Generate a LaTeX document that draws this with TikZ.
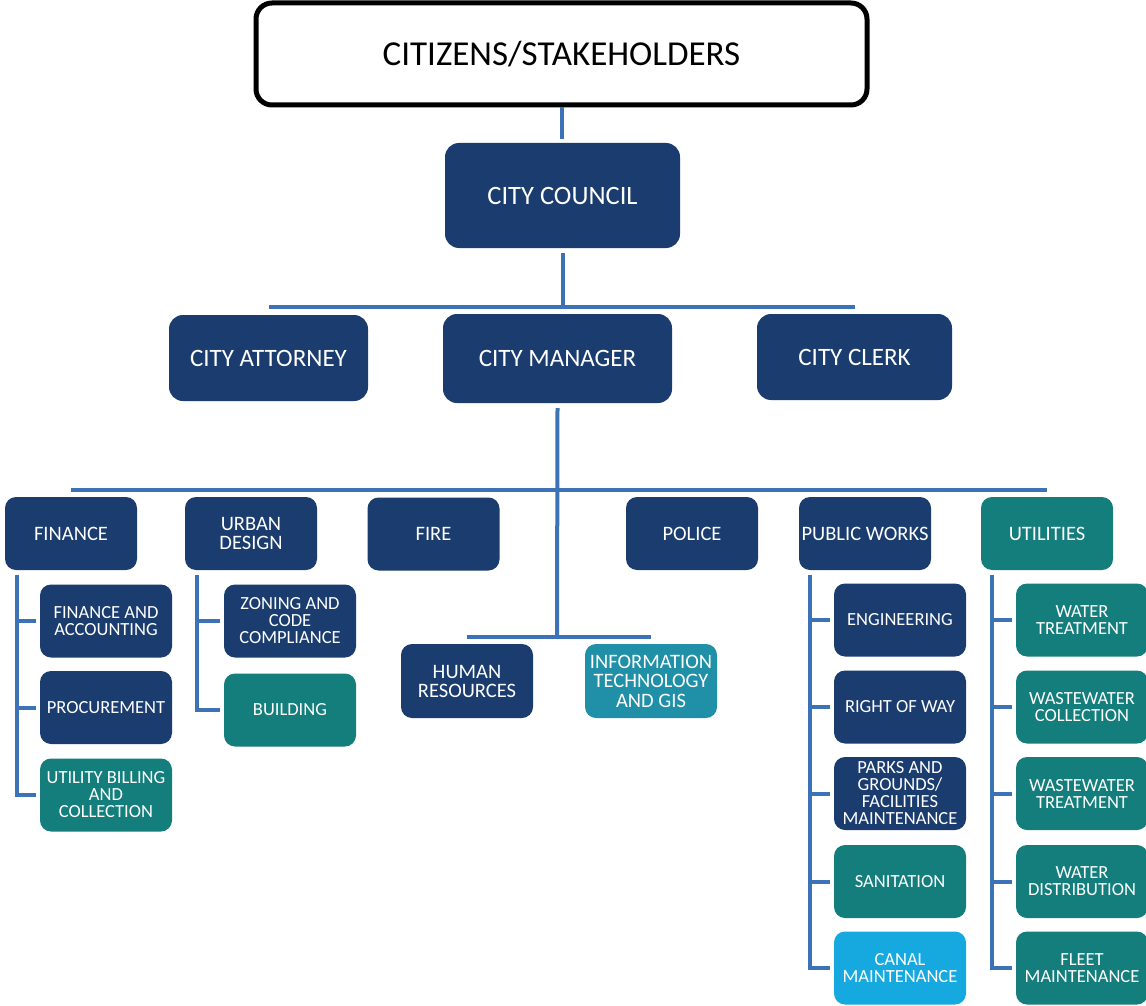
\documentclass[tikz,border=0pt]{standalone}
\usepackage{fontspec}
\setmainfont{Carlito}
\usepackage{tikz}
\definecolor{cnavy}{HTML}{1A3C6F}
\definecolor{cteal}{HTML}{137E7C}
\definecolor{cinfo}{HTML}{1F90A8}
\definecolor{ccanal}{HTML}{16A9E0}
\definecolor{clink}{HTML}{3C72B6}

\begin{document}
\begin{tikzpicture}[x=1pt,y=-1pt,
  link/.style={draw=clink,line width=4pt},
  box/.style={rectangle,rounded corners=11pt,text=white,align=center,inner sep=0pt,
    minimum width=132pt,minimum height=73pt,font=\fontsize{18.5}{17}\selectfont},
  navybox/.style={box,fill=cnavy},
  tealbox/.style={box,fill=cteal},
  deptbox/.style={font=\fontsize{20.5}{19}\selectfont},
  headbox/.style={navybox,rounded corners=14pt,font=\fontsize{25}{26}\selectfont}]
\useasboundingbox (0,0) rectangle (1146,1006);
\node[rectangle,rounded corners=16pt,draw=black,line width=5pt,fill=white,minimum width=611pt,minimum height=102pt,font=\fontsize{35}{36}\selectfont] (cit) at (561.5,54) {CITIZENS/STAKEHOLDERS};
\node[headbox,minimum width=235pt,minimum height=105pt,font=\fontsize{26.5}{28}\selectfont] (coun) at (562.5,195.5) {CITY COUNCIL};
\node[headbox,minimum width=199pt,minimum height=86pt] (att) at (268.5,358) {CITY ATTORNEY};
\node[headbox,minimum width=229pt,minimum height=89pt] (mgr) at (557.5,358.5) {CITY MANAGER};
\node[headbox,minimum width=195pt,minimum height=86pt] (clk) at (854.5,357) {CITY CLERK};
\coordinate (cbar) at (562,307);
\coordinate (dbar) at (557,490);
\coordinate (hbar) at (557,637);
\draw[link,shorten >=4pt] (cit.south) -- (cit.south |- coun.north);
\draw[link] ([yshift=-5pt]coun.south) -- (coun.south |- cbar);
\draw[link] (att.north |- cbar) -- (clk.north |- cbar);
\node[navybox,deptbox] (fin) at (71,533.5) {FINANCE};
\node[navybox,deptbox] (urb) at (251,533.5) {URBAN\\DESIGN};
\node[navybox,deptbox] (fire) at (433.5,534) {FIRE};
\node[navybox,deptbox] (pol) at (692,533.5) {POLICE};
\node[navybox,deptbox] (pw) at (865,533.5) {PUBLIC WORKS};
\node[tealbox,deptbox] (util) at (1047,533.5) {UTILITIES};
\draw[link] ([yshift=-5pt]mgr.south) -- (hbar);
\draw[link] (fin.north |- dbar) -- (util.north |- dbar);
\node[navybox,minimum height=74pt,font=\fontsize{20.5}{19}\selectfont] (hr) at (467,681) {HUMAN\\RESOURCES};
\node[box,fill=cinfo,minimum height=74pt,font=\fontsize{20.5}{19.5}\selectfont] (info) at (651,681) {INFORMATION\\TECHNOLOGY\\AND GIS};
\draw[link] (hr.north |- hbar) -- (info.north |- hbar);
\node[navybox] (fa) at (106,621) {FINANCE AND\\ACCOUNTING};
\node[navybox] (proc) at (106,707.5) {PROCUREMENT};
\node[tealbox] (bill) at (106,795) {UTILITY BILLING\\AND\\COLLECTION};
\draw[link] ([xshift=12pt,yshift=-5pt]fin.south west) |- ([xshift=-4pt]fa.west);
\draw[link] ([xshift=12pt,yshift=-5pt]fin.south west) |- ([xshift=-4pt]proc.west);
\draw[link] ([xshift=12pt,yshift=-5pt]fin.south west) |- ([xshift=-4pt]bill.west);
\node[navybox] (zone) at (290,621) {ZONING AND\\CODE\\COMPLIANCE};
\node[tealbox] (bldg) at (290,710) {BUILDING};
\draw[link] ([xshift=12pt,yshift=-5pt]urb.south west) |- ([xshift=-4pt]zone.west);
\draw[link] ([xshift=12pt,yshift=-5pt]urb.south west) |- ([xshift=-4pt]bldg.west);
\node[navybox] (eng) at (900,620) {ENGINEERING};
\node[navybox] (row) at (900,707) {RIGHT OF WAY};
\node[navybox] (park) at (900,793.5) {PARKS AND\\GROUNDS/\\FACILITIES\\MAINTENANCE};
\node[tealbox] (san) at (900,881.5) {SANITATION};
\node[box,fill=ccanal] (canal) at (900,968) {CANAL\\MAINTENANCE};
\draw[link] ([xshift=11pt,yshift=-5pt]pw.south west) |- ([xshift=-4pt]eng.west);
\draw[link] ([xshift=11pt,yshift=-5pt]pw.south west) |- ([xshift=-4pt]row.west);
\draw[link] ([xshift=11pt,yshift=-5pt]pw.south west) |- ([xshift=-4pt]park.west);
\draw[link] ([xshift=11pt,yshift=-5pt]pw.south west) |- ([xshift=-4pt]san.west);
\draw[link] ([xshift=11pt,yshift=-5pt]pw.south west) |- ([xshift=-4pt]canal.west);
\node[tealbox] (wtr) at (1082,620) {WATER\\TREATMENT};
\node[tealbox] (wwc) at (1082,707) {WASTEWATER\\COLLECTION};
\node[tealbox] (wwt) at (1082,793.5) {WASTEWATER\\TREATMENT};
\node[tealbox] (wdist) at (1082,881.5) {WATER\\DISTRIBUTION};
\node[tealbox] (fleet) at (1082,968) {FLEET\\MAINTENANCE};
\draw[link] ([xshift=11pt,yshift=-5pt]util.south west) |- ([xshift=-4pt]wtr.west);
\draw[link] ([xshift=11pt,yshift=-5pt]util.south west) |- ([xshift=-4pt]wwc.west);
\draw[link] ([xshift=11pt,yshift=-5pt]util.south west) |- ([xshift=-4pt]wwt.west);
\draw[link] ([xshift=11pt,yshift=-5pt]util.south west) |- ([xshift=-4pt]wdist.west);
\draw[link] ([xshift=11pt,yshift=-5pt]util.south west) |- ([xshift=-4pt]fleet.west);
\end{tikzpicture}
\end{document}
